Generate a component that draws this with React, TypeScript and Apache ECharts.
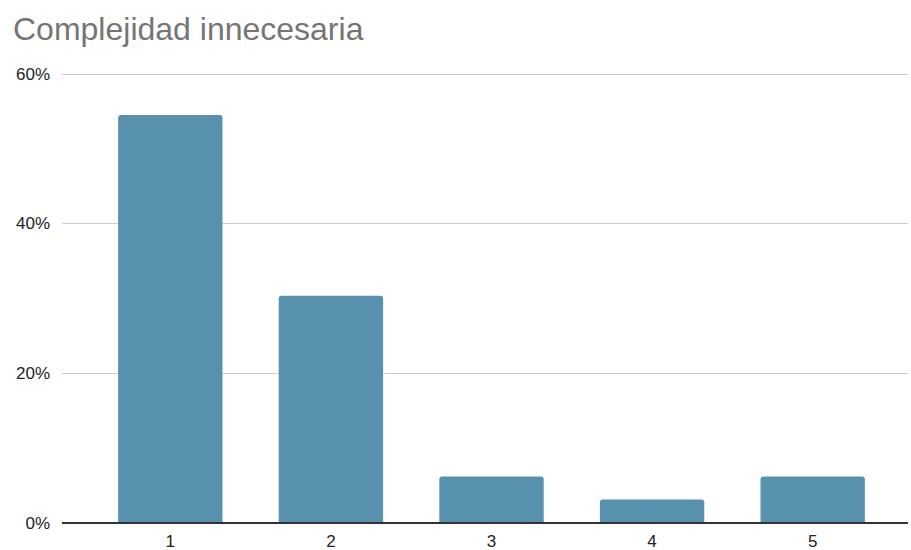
import React, { useEffect, useRef } from "react";
import * as echarts from "echarts";

const categories = ["1", "2", "3", "4", "5"];
const values = [54.5, 30.3, 6.1, 3.0, 6.1];
const yTicks = [0, 20, 40, 60];
const titleText = "Complejidad innecesaria";

export default function App() {
  const ref = useRef<HTMLDivElement>(null);
  useEffect(() => {
    document.body.style.margin = "0";
    if (!ref.current) return;
    const chart = echarts.init(ref.current, undefined, { renderer: "svg" });
    const yMax = yTicks[yTicks.length - 1];
    const font = "'Liberation Sans', Arial, sans-serif";
    chart.setOption({
      animation: false,
      title: {
        text: titleText,
        left: 8,
        top: 8,
        textStyle: { fontFamily: font, fontSize: 32, fontWeight: "normal", color: "#757575" },
      },
      grid: [
        { left: 62, right: 3, top: 74, bottom: 27, containLabel: false },
        { left: 90, right: 18, top: 74, bottom: 27, containLabel: false },
      ],
      xAxis: [
        { gridIndex: 0, type: "value", min: 0, max: 1, show: false },
        {
          gridIndex: 1,
          type: "category",
          data: categories,
          axisLine: { show: false },
          axisTick: { show: false },
          axisLabel: { fontFamily: font, fontSize: 17, color: "#222", margin: 11 },
        },
      ],
      yAxis: [
        {
          gridIndex: 0,
          type: "value",
          min: 0,
          max: yMax,
          interval: 20,
          axisLine: { show: false },
          axisTick: { show: false },
          axisLabel: {
            formatter: "{value}%",
            fontFamily: font,
            fontSize: 17,
            color: "#222",
            margin: 12,
          },
          splitLine: { lineStyle: { color: "#cccccc", width: 1 } },
        },
        { gridIndex: 1, type: "value", min: 0, max: yMax, show: false },
      ],
      series: [
        {
          type: "line",
          xAxisIndex: 0,
          yAxisIndex: 0,
          data: [[0, 0], [1, 0]],
          symbol: "none",
          lineStyle: { color: "#333333", width: 2 },
          z: 5,
          silent: true,
        },
        {
          type: "bar",
          xAxisIndex: 1,
          yAxisIndex: 1,
          data: values,
          barWidth: "65%",
          itemStyle: { color: "#5891ad", borderRadius: [3, 3, 0, 0] },
          z: 3,
        },
      ],
    });
    return () => chart.dispose();
  }, []);
  return <div ref={ref} style={{ width: 911, height: 550 }} />;
}
